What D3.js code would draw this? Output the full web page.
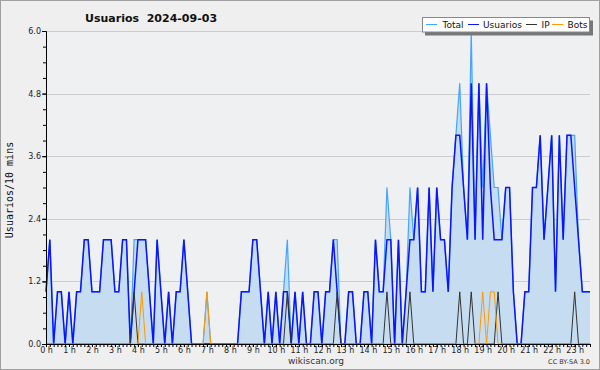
<!DOCTYPE html>
<html><head><meta charset="utf-8">
<script src="https://cdn.jsdelivr.net/npm/d3@7/dist/d3.min.js"></script>
<style>body{margin:0;background:#fff;}svg{display:block;}</style>
</head><body>
<svg id="c" width="600" height="370"></svg>
<script>
const hourLabels = ["0 h","1 h","2 h","3 h","4 h","5 h","6 h","7 h","8 h","9 h","10 h","11 h","12 h","13 h","14 h","15 h","16 h","17 h","18 h","19 h","20 h","21 h","22 h","23 h"];
const yTicks = [0, 1.2, 2.4, 3.6, 4.8, 6.0];
const usuarios = [
1,2,0,1,1,0,1,0,1,1,
2,2,1,1,1,2,2,2,1,1,
2,2,0,1,2,2,2,1,0,2,
1,0,1,0,1,1,2,1,0,0,
0,0,0,0,0,0,0,0,0,0,
0,1,1,1,2,2,1,0,1,0,
1,0,1,1,0,1,0,1,0,0,
1,1,0,1,1,2,1,0,0,1,
1,0,0,1,1,0,2,1,1,2,
2,0,2,0,1,2,2,3,1,1,
3,1,3,2,2,1,3,4,4,3,
2,5,2,5,2,5,3,2,2,2,
3,3,1,0,0,1,1,3,3,4,
2,3,4,1,4,2,4,4,3,2,
1,1,1];
const total = [
1,2,0,1,1,0,1,0,1,1,
2,2,1,1,1,2,2,2,1,1,
2,2,0,2,2,2,2,1,0,2,
1,0,1,0,1,1,2,1,0,0,
0,0,1,0,0,0,0,0,0,0,
0,1,1,1,2,2,1,0,1,0,
1,0,1,2,0,1,0,1,0,0,
1,1,0,1,1,2,2,0,0,1,
1,0,0,1,1,0,2,1,1,3,
2,0,2,0,1,3,2,3,1,1,
3,1,3,2,2,1,3,4,5,3,
2,6,2,5,3,5,4,3,3,2,
3,3,1,0,0,1,1,3,3,4,
2,3,4,1,4,2,4,4,4,2,
1,1,1];
const ip = [
0,0,0,0,0,0,0,0,0,0,
0,0,0,0,0,0,0,0,0,0,
0,0,0,1,0,0,0,0,0,0,
0,0,0,0,0,0,0,0,0,0,
0,0,0,0,0,0,0,0,0,0,
0,0,0,0,0,0,0,0,0,0,
0,0,0,1,0,0,0,0,0,0,
0,0,0,0,0,0,1,0,0,0,
0,0,0,0,0,0,0,0,0,1,
0,0,0,0,0,1,0,0,0,0,
0,0,0,0,0,0,0,0,1,0,
0,1,0,0,0,0,0,0,1,0,
0,0,0,0,0,0,0,0,0,0,
0,0,0,0,0,0,0,0,1,0,
0,0,0];
const bots = [
0,0,0,0,0,0,0,0,0,0,
0,0,0,0,0,0,0,0,0,0,
0,0,0,0,0,1,0,0,0,0,
0,0,0,0,0,0,0,0,0,0,
0,0,1,0,0,0,0,0,0,0,
0,0,0,0,0,0,0,0,0,0,
0,0,0,0,0,0,0,0,0,0,
0,0,0,0,0,0,0,0,0,0,
0,0,0,0,0,0,0,0,0,0,
0,0,0,0,0,0,0,0,0,0,
0,0,0,0,0,0,0,0,0,0,
0,0,0,0,1,0,1,1,0,0,
0,0,0,0,0,0,0,0,0,0,
0,0,0,0,0,0,0,0,0,0,
0,0,0];
const seriesNames = ["Total","Usuarios","IP","Bots"];
const seriesColors = ["#44a4ff","#0a14ff","#333333","#ff9900"];

const svg = d3.select("#c");
const pL = 46, pR = 590, pT = 31, pB = 344;
const x = d3.scaleLinear().domain([0, usuarios.length - 1]).range([pL, pR]);
const y = d3.scaleLinear().domain([0, 6]).range([pB, pT]);

svg.append("rect").attr("x",0.5).attr("y",0.5).attr("width",599).attr("height",369)
  .attr("fill","#efefef").attr("stroke","#a0a0a0");
svg.append("rect").attr("x",pL).attr("y",pT).attr("width",pR-pL).attr("height",pB-pT)
  .attr("fill","#eef0f2");

// grid
svg.append("g").selectAll("line").data(yTicks.filter(d=>d>0)).join("line")
  .attr("x1",pL).attr("x2",pR).attr("y1",d=>Math.round(y(d))+0.5).attr("y2",d=>Math.round(y(d))+0.5)
  .attr("stroke","#cccccc").attr("stroke-width",1);

// area
svg.append("path").datum(total)
  .attr("d", d3.area().x((d,i)=>x(i)).y0(y(0)).y1(d=>y(d)))
  .attr("fill","#c6ddf1");

const line = d3.line().x((d,i)=>x(i)).y(d=>y(d));
const data = [total, usuarios, ip, bots];
const widths = [1.2, 1.5, 1, 1];
data.forEach((s,k)=>{
  svg.append("path").datum(s).attr("d",line).attr("fill","none")
    .attr("stroke",seriesColors[k]).attr("stroke-width",widths[k]).attr("stroke-linejoin","miter");
});

// axes
const fontTick = "DejaVu Sans, sans-serif";
svg.append("g").attr("transform",`translate(${pL},0)`)
  .call(d3.axisLeft(y).tickValues(yTicks).tickFormat(d3.format(".1f")).tickSize(4).tickPadding(1));
svg.append("g").attr("transform",`translate(${pL},0)`)
  .call(d3.axisLeft(y).tickValues(d3.range(0,6.01,0.3)).tickFormat("").tickSize(3))
  .select(".domain").remove();
svg.append("g").attr("transform",`translate(0,${pB})`)
  .call(d3.axisBottom(x).tickValues(d3.range(0, usuarios.length, 6)).tickFormat(i=>hourLabels[i/6]).tickSize(3).tickPadding(0));
svg.append("g").attr("transform",`translate(0,${pB})`)
  .call(d3.axisBottom(x).tickValues(d3.range(0, usuarios.length)).tickFormat("").tickSize(3))
  .select(".domain").remove();
svg.selectAll(".domain").attr("stroke","#000");
svg.selectAll(".tick line").attr("stroke","#000");
svg.selectAll(".tick text").attr("font-family",fontTick).attr("font-size",8).attr("fill","#222");

// title
svg.append("text").attr("x",85).attr("y",22).attr("font-family","DejaVu Sans, sans-serif")
  .attr("font-weight","bold").attr("font-size",11).attr("fill","#111")
  .attr("xml:space","preserve").text("Usuarios  2024-09-03");

// y title
svg.append("text").attr("transform","translate(13,190) rotate(-90)").attr("text-anchor","middle")
  .attr("font-family","DejaVu Sans Mono, monospace").attr("font-size",10).attr("fill","#111")
  .text("Usuarios/10 mins");

// footer
svg.append("text").attr("x",316).attr("y",364).attr("text-anchor","middle")
  .attr("font-family","DejaVu Sans, sans-serif").attr("font-size",9).attr("fill","#333").text("wikiscan.org");
svg.append("text").attr("x",590).attr("y",364).attr("text-anchor","end")
  .attr("font-family","DejaVu Sans, sans-serif").attr("font-size",6.5).attr("fill","#333").text("CC BY-SA 3.0");

// legend
const lg = svg.append("g");
lg.append("rect").attr("x",425).attr("y",20.5).attr("width",168).attr("height",15).attr("fill","#777");
lg.append("rect").attr("x",422.5).attr("y",17.5).attr("width",167).attr("height",14.5).attr("fill","#fff").attr("stroke","#888");
const lineX = [426, 468, 526, 552];
const textX = [442.5, 483, 541.5, 567.5];
seriesNames.forEach((n,k)=>{
  lg.append("line").attr("x1",lineX[k]).attr("x2",lineX[k]+11).attr("y1",24.5).attr("y2",24.5)
    .attr("stroke",seriesColors[k]).attr("stroke-width",1);
  lg.append("text").attr("x",textX[k]).attr("y",28).attr("font-family","DejaVu Sans, sans-serif")
    .attr("font-size",9).attr("fill","#111").text(n);
});
</script>
</body></html>
